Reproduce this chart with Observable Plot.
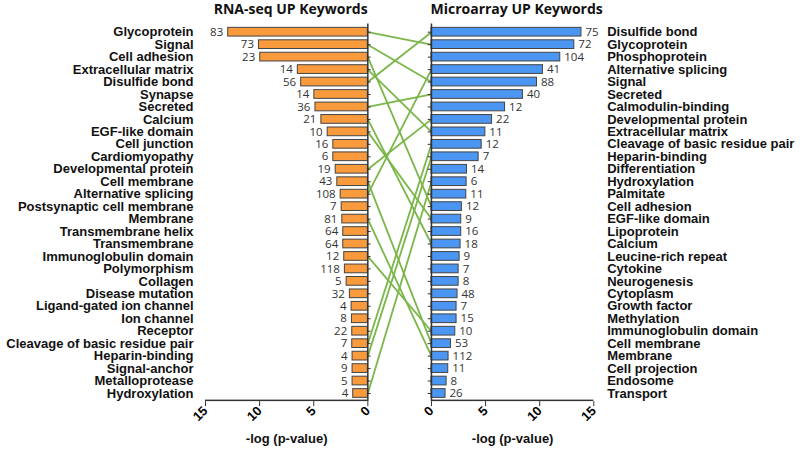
<!DOCTYPE html>
<html>
<head>
<meta charset="utf-8">
<script src="https://cdn.jsdelivr.net/npm/d3@7"></script>
<script src="https://cdn.jsdelivr.net/npm/@observablehq/plot@0.6"></script>
<style>
  html, body { margin: 0; padding: 0; background: #fff; }
  #chart svg { display: block; }
</style>
</head>
<body>
<div id="chart"></div>
<script>
// ---- Data ----
const leftTitle = "RNA-seq UP Keywords";
const rightTitle = "Microarray UP Keywords";
const axisTitle = "-log (p-value)";

const leftKeywords = ["Glycoprotein","Signal","Cell adhesion","Extracellular matrix","Disulfide bond","Synapse","Secreted","Calcium","EGF-like domain","Cell junction","Cardiomyopathy","Developmental protein","Cell membrane","Alternative splicing","Postsynaptic cell membrane","Membrane","Transmembrane helix","Transmembrane","Immunoglobulin domain","Polymorphism","Collagen","Disease mutation","Ligand-gated ion channel","Ion channel","Receptor","Cleavage of basic residue pair","Heparin-binding","Signal-anchor","Metalloprotease","Hydroxylation"];
const leftValues = [12.9,10.06,9.94,6.47,6.16,4.94,4.84,4.29,3.71,3.19,3.19,2.97,2.82,2.51,2.42,2.36,2.27,2.27,2.18,2.12,1.96,1.66,1.5,1.47,1.44,1.44,1.41,1.41,1.41,1.35];
const leftCounts = [83,73,23,14,56,14,36,21,10,16,6,19,43,108,7,81,64,64,12,118,5,32,4,8,22,7,4,9,5,4];

const rightKeywords = ["Disulfide bond","Glycoprotein","Phosphoprotein","Alternative splicing","Signal","Secreted","Calmodulin-binding","Developmental protein","Extracellular matrix","Cleavage of basic residue pair","Heparin-binding","Differentiation","Hydroxylation","Palmitate","Cell adhesion","EGF-like domain","Lipoprotein","Calcium","Leucine-rich repeat","Cytokine","Neurogenesis","Cytoplasm","Growth factor","Methylation","Immunoglobulin domain","Cell membrane","Membrane","Cell projection","Endosome","Transport"];
const rightValues = [13.86,13.2,11.9,10.3,9.75,8.45,6.8,5.6,4.98,4.64,4.36,3.28,3.25,3.22,2.81,2.75,2.75,2.69,2.6,2.51,2.51,2.41,2.32,2.32,2.2,1.8,1.58,1.55,1.4,1.3];
const rightCounts = [75,72,104,41,88,40,12,22,11,12,7,14,6,11,12,9,16,18,9,7,8,48,7,15,10,53,112,11,8,26];

const tickValues = [15,10,5,0];

// ---- Layout ----
const G = 2.94; // half-gap between the two panels, in axis units
const W = 800, H = 449;
const mt = 23.6, mb = 47.9, ml = 205, mr = 206.7;
const frameH = H - mt - mb;

const left = leftKeywords.map((k, i) => ({i, name: k, v: leftValues[i], n: leftCounts[i]}));
const right = rightKeywords.map((k, i) => ({i, name: k, v: rightValues[i], n: rightCounts[i]}));
const links = left.filter(d => rightKeywords.includes(d.name))
  .map(d => ({a: d.i, b: rightKeywords.indexOf(d.name)}));
const ticks = [...tickValues.map(t => -G - t), ...tickValues.map(t => G + t)];
const segs = [{a: -G - 15, b: -G}, {a: G, b: G + 15}];

const labelFont = "'Liberation Sans', Arial, sans-serif";
const numFont = "'Open Sans', sans-serif";
const dark = "#333";

const chart = Plot.plot({
  width: W, height: H,
  marginTop: mt, marginBottom: mb, marginLeft: ml, marginRight: mr,
  style: {fontFamily: labelFont, background: "#fff"},
  x: {domain: [-15 - G, 15 + G]},
  y: {domain: d3.range(30), padding: 0.3, round: false, axis: null},
  marks: [
    // connecting lines
    Plot.link(links, {x1: -G, x2: G, y1: "a", y2: "b", stroke: "#7AB648", strokeWidth: 1.8}),
    // bars
    Plot.barX(left, {y: "i", x1: -G, x2: d => -G - d.v, fill: "#F99B3D", stroke: "#444", strokeWidth: 1}),
    Plot.barX(right, {y: "i", x1: G, x2: d => G + d.v, fill: "#4B96F3", stroke: "#444", strokeWidth: 1}),
    // counts
    Plot.text(left, {y: "i", x: d => -G - d.v, text: d => String(d.n), dx: -5, textAnchor: "end", fontFamily: numFont, fontSize: 11.5, fill: dark}),
    Plot.text(right, {y: "i", x: d => G + d.v, text: d => String(d.n), dx: 4, textAnchor: "start", fontFamily: numFont, fontSize: 11.5, fill: dark}),
    // keyword labels
    Plot.text(left, {y: "i", text: "name", frameAnchor: "left", dx: -12, textAnchor: "end", fontWeight: "bold", fontSize: 13, fill: "#111"}),
    Plot.text(right, {y: "i", text: "name", frameAnchor: "right", dx: 13.4, textAnchor: "start", fontWeight: "bold", fontSize: 13, fill: "#111"}),
    // vertical axes
    Plot.ruleX([-G, G], {stroke: dark, strokeWidth: 1.5}),
    // category ticks
    Plot.ruleY(left, {y: "i", x1: -G, x2: -G + 0.3, stroke: dark, strokeWidth: 1}),
    Plot.ruleY(right, {y: "i", x1: G - 0.3, x2: G, stroke: dark, strokeWidth: 1}),
    // bottom baselines
    Plot.rect(segs, {x1: "a", x2: "b", fill: dark, insetTop: frameH - 1.5}),
    // x axis ticks & labels
    Plot.axisX({ticks, tickSize: 5, tickFormat: d => String(Math.round(Math.abs(d) - G)), tickRotate: -45, fontWeight: "bold", fontSize: 13, stroke: dark, label: null, tickPadding: 2}),
    // axis titles
    Plot.text([axisTitle, axisTitle], {x: [-G - 7.5, G + 7.5], text: d => d, frameAnchor: "bottom", lineAnchor: "middle", dy: 37, fontWeight: "bold", fontSize: 13, fill: "#111"}),
    // panel titles
    Plot.text([leftTitle, rightTitle], {x: [-G - 7.5, G + 7.5], text: d => d, frameAnchor: "top", lineAnchor: "middle", dx: 4, dy: -14.5, fontWeight: "bold", fontSize: 14, fontFamily: "'Open Sans', sans-serif", fill: "#111"})
  ]
});
document.getElementById("chart").append(chart);
</script>
</body>
</html>
